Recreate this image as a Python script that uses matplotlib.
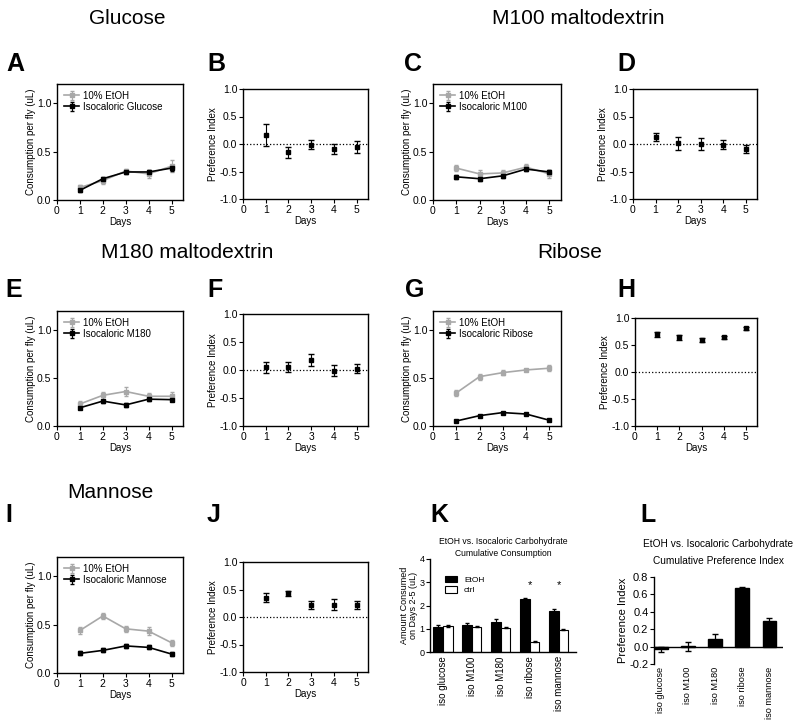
import matplotlib
matplotlib.use("Agg")
import matplotlib.pyplot as plt
import numpy as np

plt.rcParams['font.family'] = ['Liberation Sans', 'DejaVu Sans']

days = [1, 2, 3, 4, 5]

# consumption per fly (uL): 10% EtOH vs isocaloric carbohydrate
glu_etoh = [0.13, 0.20, 0.30, 0.27, 0.35]
glu_etoh_err = [0.03, 0.03, 0.02, 0.04, 0.06]
glu_carb = [0.10, 0.22, 0.29, 0.29, 0.33]
glu_carb_err = [0.02, 0.02, 0.02, 0.02, 0.03]

m100_etoh = [0.33, 0.27, 0.28, 0.34, 0.27]
m100_etoh_err = [0.03, 0.04, 0.03, 0.03, 0.04]
m100_carb = [0.24, 0.22, 0.25, 0.32, 0.29]
m100_carb_err = [0.02, 0.02, 0.02, 0.02, 0.02]

m180_etoh = [0.23, 0.32, 0.36, 0.31, 0.31]
m180_etoh_err = [0.03, 0.04, 0.05, 0.03, 0.04]
m180_carb = [0.19, 0.26, 0.22, 0.28, 0.275]
m180_carb_err = [0.015, 0.015, 0.02, 0.02, 0.015]

rib_etoh = [0.345, 0.515, 0.557, 0.585, 0.603]
rib_etoh_err = [0.03, 0.03, 0.03, 0.015, 0.03]
rib_carb = [0.052, 0.108, 0.14, 0.125, 0.06]
rib_carb_err = [0.008, 0.008, 0.008, 0.008, 0.008]

man_etoh = [0.44, 0.59, 0.457, 0.433, 0.313]
man_etoh_err = [0.04, 0.03, 0.03, 0.04, 0.03]
man_carb = [0.203, 0.234, 0.28, 0.265, 0.196]
man_carb_err = [0.02, 0.02, 0.02, 0.02, 0.02]

# daily preference index
glu_pi = [0.17, -0.15, -0.01, -0.09, -0.06]
glu_pi_err = [0.2, 0.1, 0.08, 0.09, 0.11]
m100_pi = [0.13, 0.01, 0.0, -0.01, -0.09]
m100_pi_err = [0.07, 0.12, 0.11, 0.08, 0.07]
m180_pi = [0.05, 0.05, 0.18, -0.01, 0.02]
m180_pi_err = [0.1, 0.09, 0.1, 0.1, 0.08]
rib_pi = [0.70, 0.64, 0.59, 0.64, 0.81]
rib_pi_err = [0.05, 0.04, 0.04, 0.03, 0.03]
man_pi = [0.35, 0.43, 0.22, 0.22, 0.22]
man_pi_err = [0.08, 0.04, 0.07, 0.1, 0.08]

# cumulative
groups = ['iso glucose', 'iso M100', 'iso M180', 'iso ribose', 'iso mannose']
cum_etoh = [1.09, 1.15, 1.31, 2.27, 1.78]
cum_etoh_err = [0.06, 0.1, 0.12, 0.05, 0.05]
cum_ctrl = [1.12, 1.09, 1.04, 0.45, 0.96]
cum_ctrl_err = [0.03, 0.02, 0.02, 0.02, 0.02]
signif = [False, False, False, True, True]
cum_pi = [-0.03, 0.005, 0.085, 0.675, 0.30]
cum_pi_err = [0.03, 0.05, 0.06, 0.015, 0.025]

W, H = 800, 722
fig = plt.figure(figsize=(W / 100, H / 100), dpi=100)


def rect(x0, y0, x1, y1):
    return [x0 / W, 1 - y1 / H, (x1 - x0) / W, (y1 - y0) / H]


def ftext(x, y, s, **kw):
    fig.text(x / W, 1 - y / H, s, **kw)


def style(ax, fs=7.5):
    for s in ax.spines.values():
        s.set_linewidth(1.0)
    ax.tick_params(direction='out', length=3, width=0.8, labelsize=fs, pad=1,
                   top=False, right=False)


def line_panel(box, etoh, etoh_err, carb, carb_err, name):
    ax = fig.add_axes(rect(*box))
    ax.errorbar(days, etoh, yerr=etoh_err, color='#a8a8a8', marker='s', ms=2.5,
                lw=1.2, capsize=1.5, elinewidth=0.8, label='10% EtOH')
    ax.errorbar(days, carb, yerr=carb_err, color='black', marker='s', ms=3,
                lw=1.2, capsize=1.5, elinewidth=0.8, label=name)
    ax.set_xlim(0, 5.5)
    ax.set_ylim(0, 1.2)
    ax.set_xticks([0, 1, 2, 3, 4, 5])
    ax.set_yticks([0, 0.5, 1.0])
    ax.set_yticklabels(['0.0', '0.5', '1.0'])
    ax.set_xlabel('Days', fontsize=7, labelpad=1)
    ax.set_ylabel('Consumption per fly (uL)', fontsize=7, labelpad=1)
    ax.legend(loc='upper left', frameon=False, fontsize=7, handlelength=1.6,
              borderaxespad=0.3, labelspacing=0.1, handletextpad=0.4)
    style(ax)
    return ax


def pi_panel(box, pi, err):
    ax = fig.add_axes(rect(*box))
    ax.axhline(0, color='black', ls=':', lw=0.9)
    ax.errorbar(days, pi, yerr=err, color='black', marker='s', ms=2.5, ls='none',
                capsize=2, elinewidth=0.8)
    ax.set_xlim(0, 5.5)
    ax.set_ylim(-1, 1)
    ax.set_xticks([0, 1, 2, 3, 4, 5])
    ax.set_yticks([-1, -0.5, 0, 0.5, 1])
    ax.set_yticklabels(['-1.0', '-0.5', '0.0', '0.5', '1.0'])
    ax.set_xlabel('Days', fontsize=7, labelpad=1)
    ax.set_ylabel('Preference Index', fontsize=7, labelpad=1)
    style(ax)
    return ax


line_panel((57, 84, 183, 200), glu_etoh, glu_etoh_err, glu_carb, glu_carb_err, 'Isocaloric Glucose')
pi_panel((243, 89, 368, 199), glu_pi, glu_pi_err)
line_panel((433, 84, 561, 200), m100_etoh, m100_etoh_err, m100_carb, m100_carb_err, 'Isocaloric M100')
pi_panel((633, 89, 757, 199), m100_pi, m100_pi_err)

line_panel((57, 311, 183, 426), m180_etoh, m180_etoh_err, m180_carb, m180_carb_err, 'Isocaloric M180')
pi_panel((243, 314, 368, 426), m180_pi, m180_pi_err)
line_panel((433, 311, 561, 426), rib_etoh, rib_etoh_err, rib_carb, rib_carb_err, 'Isocaloric Ribose')
pi_panel((635, 318, 757, 426), rib_pi, rib_pi_err)

line_panel((57, 557, 183, 673), man_etoh, man_etoh_err, man_carb, man_carb_err, 'Isocaloric Mannose')
pi_panel((243, 562, 368, 672), man_pi, man_pi_err)

# K: cumulative consumption
axk = fig.add_axes(rect(430, 559, 576, 652))
xk = np.arange(len(groups))
bw = 0.33
axk.bar(xk - bw / 2, cum_etoh, bw, yerr=cum_etoh_err, color='black', edgecolor='black',
        lw=0.8, error_kw=dict(elinewidth=0.8, capsize=1.5), label='EtOH')
axk.bar(xk + bw / 2, cum_ctrl, bw, yerr=cum_ctrl_err, color='white', edgecolor='black',
        lw=0.8, error_kw=dict(elinewidth=0.8, capsize=1.5), label='ctrl')
for xi, s in zip(xk, signif):
    if s:
        axk.text(xi, 2.65, '*', ha='center', va='bottom', fontsize=8)
axk.set_xlim(-0.45, 4.6)
axk.set_ylim(0, 4)
axk.set_yticks([0, 1, 2, 3, 4])
axk.set_xticks(xk)
axk.set_xticklabels(groups, rotation=90)
axk.spines['top'].set_visible(False)
axk.spines['right'].set_visible(False)
axk.set_ylabel('Amount Consumed\non Days 2-5 (uL)', fontsize=6.5, labelpad=1, linespacing=1.0)
axk.set_title('EtOH vs. Isocaloric Carbohydrate\nCumulative Consumption', fontsize=6.2,
              pad=2, linespacing=1.5)
axk.legend(loc='upper left', frameon=False, fontsize=6, handlelength=1.5,
           handleheight=0.8, bbox_to_anchor=(0.05, 0.9), labelspacing=0.3)
style(axk, 6.5)
axk.tick_params(axis='x', length=0, pad=3, labelsize=7)

# L: cumulative preference index
axl = fig.add_axes(rect(654, 577, 783, 664))
xl = np.arange(len(groups))
axl.bar(xl, cum_pi, 0.5, yerr=cum_pi_err, color='black', edgecolor='black',
        error_kw=dict(elinewidth=0.9, capsize=2.5))
axl.axhline(0, color='black', lw=1.0)
axl.set_xlim(-0.25, 4.5)
axl.set_ylim(-0.2, 0.8)
axl.set_yticks([-0.2, 0, 0.2, 0.4, 0.6, 0.8])
axl.set_yticklabels(['-0.2', '0.0', '0.2', '0.4', '0.6', '0.8'])
axl.set_xticks(xl)
axl.set_xticklabels(groups, rotation=90)
for k in ['top', 'right', 'bottom']:
    axl.spines[k].set_visible(False)
axl.set_ylabel('Preference Index', fontsize=8, labelpad=1)
axl.set_title('EtOH vs. Isocaloric Carbohydrate\nCumulative Preference Index', fontsize=7.3,
              pad=9, linespacing=1.9)
style(axl, 8)
axl.tick_params(axis='x', length=0, pad=2, labelsize=6.6)

# section headings
ftext(127, 18, 'Glucose', fontsize=15, ha='center', va='center')
ftext(578, 18, 'M100 maltodextrin', fontsize=15, ha='center', va='center')
ftext(187, 252, 'M180 maltodextrin', fontsize=15, ha='center', va='center')
ftext(570, 252, 'Ribose', fontsize=15, ha='center', va='center')
ftext(110, 492, 'Mannose', fontsize=15, ha='center', va='center')

# panel letters
letters = [('A', 6, 52), ('B', 207, 52), ('C', 404, 52), ('D', 617, 52),
           ('E', 5, 278), ('F', 207, 278), ('G', 405, 278), ('H', 617, 278),
           ('I', 5, 503), ('J', 207, 503), ('K', 430, 503), ('L', 640, 503)]
for s, x, y in letters:
    ftext(x, y, s, fontsize=18, fontweight='bold', ha='left', va='top')

fig.savefig('out.png', dpi=100)
